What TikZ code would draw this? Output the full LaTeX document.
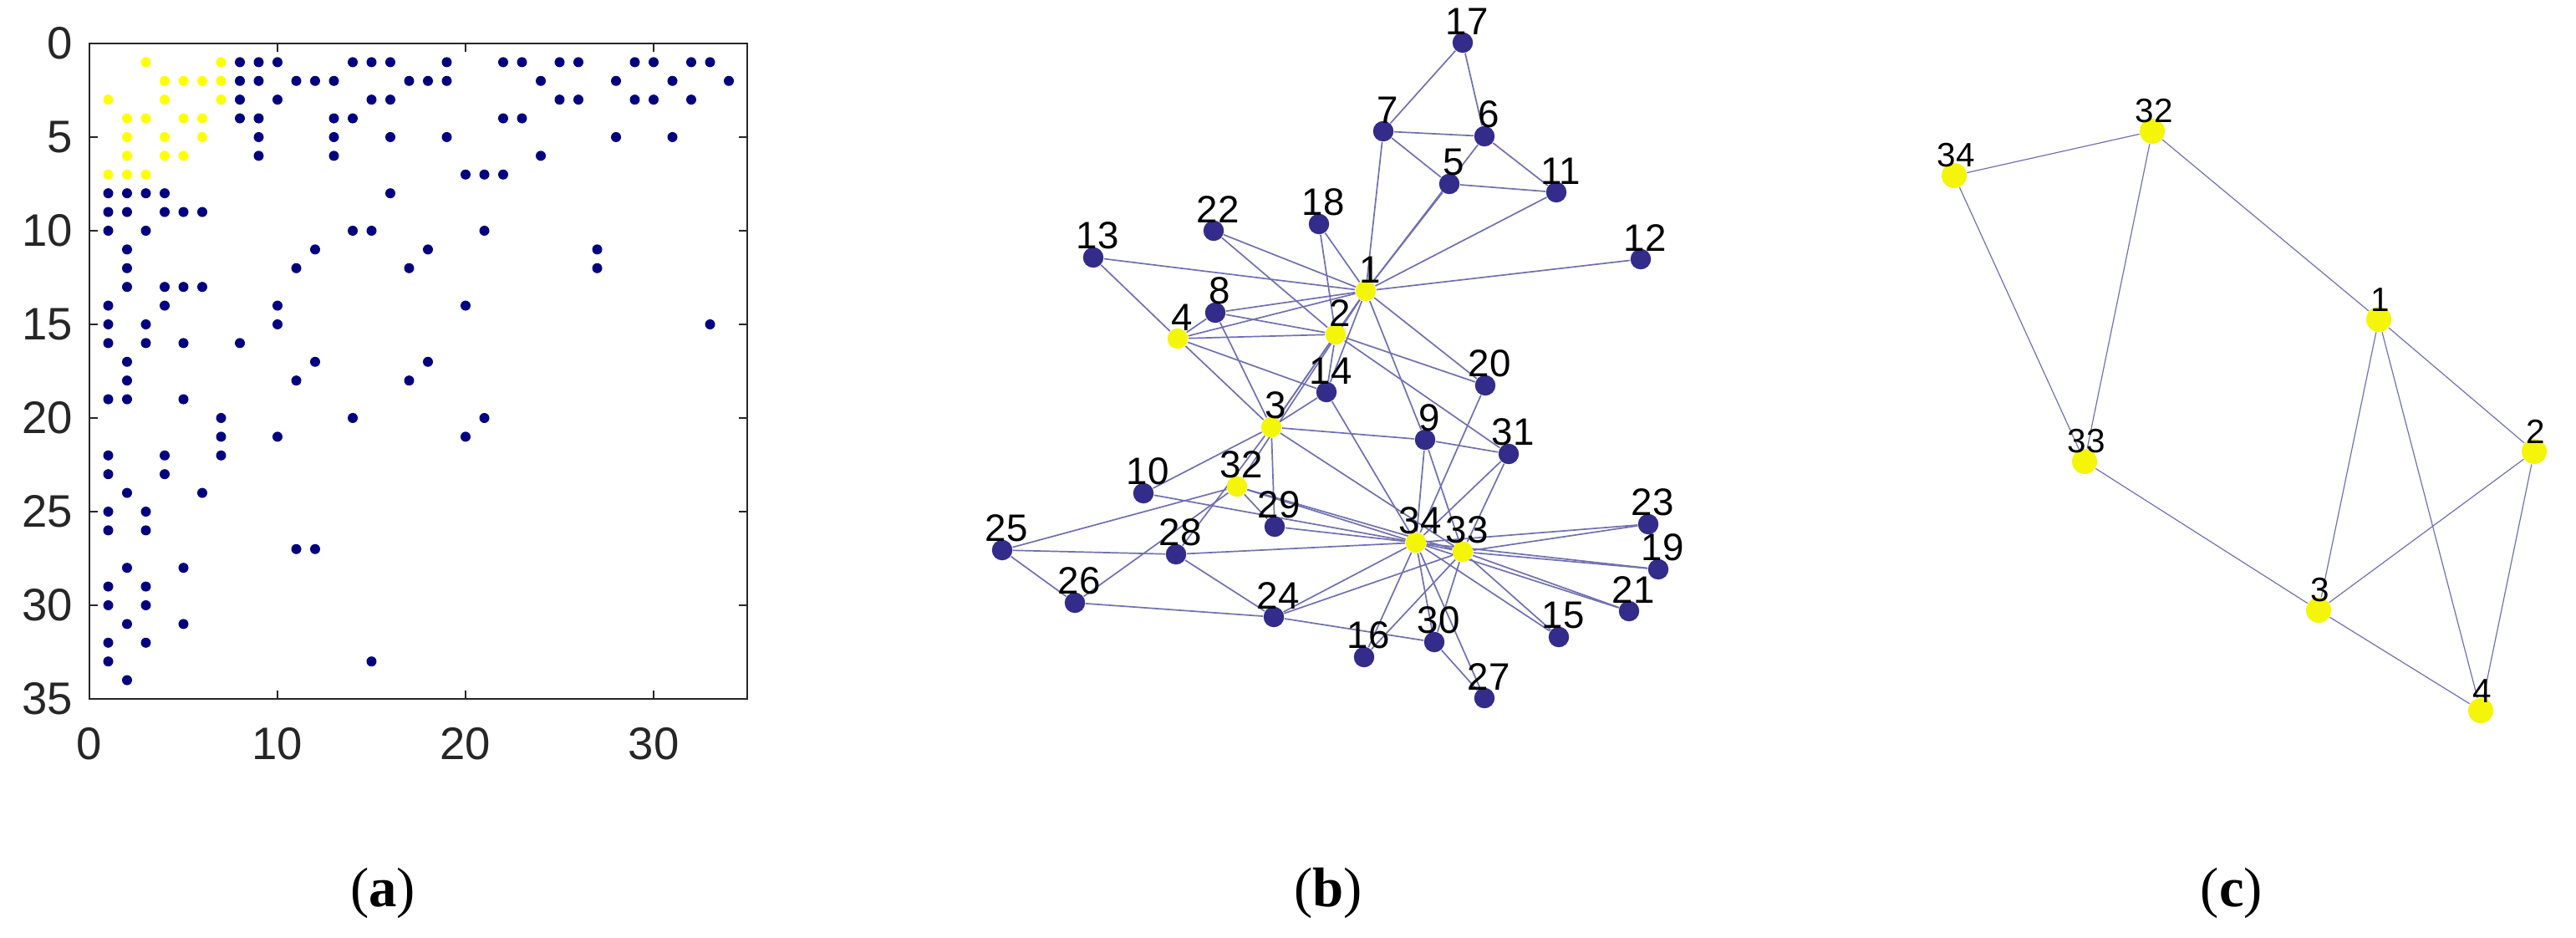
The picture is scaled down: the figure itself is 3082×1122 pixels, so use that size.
\documentclass[tikz,border=0pt]{standalone}
\usepackage{fontspec}
\setmainfont{Liberation Sans}
\newfontfamily\capfont{Liberation Serif}
\usetikzlibrary{backgrounds}
\definecolor{spyB}{RGB}{0,0,128}
\definecolor{spyY}{RGB}{255,255,0}
\definecolor{nodeB}{RGB}{52,44,138}
\definecolor{nodeY}{RGB}{245,245,10}
\definecolor{edgeC}{RGB}{112,112,178}
\definecolor{axisC}{RGB}{38,38,38}
\begin{document}
\begin{tikzpicture}[x=0.01cm,y=-0.01cm,
  ticklab/.style={font=\fontsize{15.5}{17}\selectfont,text=axisC,inner sep=0},
  bnode/.style={circle,inner sep=0,minimum size=2.45mm,draw=none},
  cnode/.style={circle,inner sep=0,minimum size=3mm,draw=none,fill=nodeY},
  blab/.style={font=\fontsize{13}{14}\selectfont,inner sep=0,anchor=south},
  clab/.style={font=\fontsize{11.5}{13}\selectfont,inner sep=0,anchor=south},
  bedge/.style={edgeC,line width=0.17mm},
  cedge/.style={edgeC,line width=0.12mm},
  captext/.style={font=\capfont\fontsize{19}{22}\selectfont,inner sep=0}]
\useasboundingbox (0,0) rectangle (3082,1122);
% ---------------- panel (a)
\foreach \i/\j in {1/3,1/7,1/8,1/9,1/10,1/14,1/15,1/16,1/19,1/22,1/23,1/25,1/26,1/29,1/30,1/32,1/33,
2/4,2/5,2/6,2/7,2/8,2/9,2/11,2/12,2/13,2/17,2/18,2/19,2/24,2/28,2/31,2/34,
3/4,3/7,3/8,3/10,3/15,3/16,3/25,3/26,3/29,3/30,3/32,
4/5,4/6,4/8,4/9,4/13,4/14,4/22,4/23,
5/6,5/9,5/13,5/16,5/19,5/28,5/31,
6/9,6/13,6/24,7/20,7/21,7/22,
8/16,10/14,10/15,10/21,11/12,11/18,11/27,12/17,12/27,14/20,15/33,17/18,20/21}{
  \ifnum\j<8 \def\cc{spyY}\else\def\cc{spyB}\fi
  \fill[\cc] ({107+22.5*\j},{52+22.4*\i}) circle (6);
  \fill[\cc] ({107+22.5*\i},{52+22.4*\j}) circle (6);
}
\draw[axisC,line width=0.2mm] (107,52) rectangle (894,836);
\foreach \k in {0,1,2,3}{
  \draw[axisC,line width=0.2mm] ({107+225*\k},836) -- ({107+225*\k},826);
  \draw[axisC,line width=0.2mm] ({107+225*\k},52) -- ({107+225*\k},62);
  \pgfmathtruncatemacro\lab{10*\k}
  \node[ticklab,anchor=north] at ({107+225*\k},870) {\lab};
}
\foreach \k in {0,...,7}{
  \draw[axisC,line width=0.2mm] (107,{52+112*\k}) -- (117,{52+112*\k});
  \draw[axisC,line width=0.2mm] (894,{52+112*\k}) -- (884,{52+112*\k});
  \pgfmathtruncatemacro\lab{5*\k}
  \node[ticklab,anchor=east] at (88,{52+112*\k}) {\lab};
}
% ---------------- panel (b)
\foreach \n/\x/\y/\c in {17/1750/51/nodeB,7/1655/157/nodeB,6/1776/163/nodeB,5/1734/220/nodeB,
11/1862/230/nodeB,22/1452/276/nodeB,18/1578/268/nodeB,13/1308/308/nodeB,12/1963/310/nodeB,
1/1634/348/nodeY,8/1454/374/nodeB,4/1409/405/nodeY,2/1598/400/nodeY,14/1587/469/nodeB,
20/1777/461/nodeB,3/1521/511/nodeY,9/1705/526/nodeB,31/1805/543/nodeB,10/1368/590/nodeB,
32/1480/582/nodeY,29/1525/630/nodeB,25/1199/658/nodeB,28/1407/663/nodeB,34/1694/649/nodeY,
33/1750/660/nodeY,23/1972/627/nodeB,19/1984/681/nodeB,21/1949/731/nodeB,26/1286/721/nodeB,
24/1524/738/nodeB,16/1632/786/nodeB,30/1716/768/nodeB,15/1865/762/nodeB,27/1776/835/nodeB}{
  \node[bnode,fill=\c] (b\n) at (\x,\y) {};
  \node[blab] (bl\n) at (\x+5,\y-9) {\n};
}
\begin{scope}[on background layer]
\foreach \a/\b in {1/2,1/3,1/4,1/5,1/6,1/7,1/8,1/9,1/11,1/12,1/13,1/14,1/18,1/20,1/22,1/32,
2/3,2/4,2/8,2/14,2/18,2/20,2/22,2/31,3/4,3/8,3/9,3/10,3/14,3/28,3/29,3/33,
4/8,4/13,4/14,5/7,5/11,6/7,6/11,6/17,7/17,9/31,9/33,9/34,10/34,14/34,15/33,15/34,
16/33,16/34,19/33,19/34,20/34,21/33,21/34,23/33,23/34,24/26,24/28,24/30,24/33,24/34,
25/26,25/28,25/32,26/32,27/30,27/34,28/34,29/32,29/34,30/33,30/34,31/33,31/34,32/33,32/34,33/34}
  \draw[bedge] (b\a) -- (b\b);
\end{scope}
% ---------------- panel (c)
\foreach \n/\x/\y in {34/2338/210,32/2575/157,1/2846/382,2/3032/540,33/2494/552,3/2774/730,4/2968/850}{
  \node[cnode] (c\n) at (\x,\y) {};
  \node[clab] (cl\n) at (\x+2,\y-9) {\n};
}
\begin{scope}[on background layer]
\foreach \a/\b in {34/32,34/33,32/33,32/1,1/2,1/3,1/4,2/3,2/4,33/3,3/4}
  \draw[cedge] (c\a) -- (c\b);
\end{scope}
% ---------------- captions
\node[captext] (capa) at (458,1068) {(\textbf{a})};
\node[captext] (capb) at (1589,1068) {(\textbf{b})};
\node[captext] (capc) at (2670,1068) {(\textbf{c})};
\end{tikzpicture}
\end{document}
